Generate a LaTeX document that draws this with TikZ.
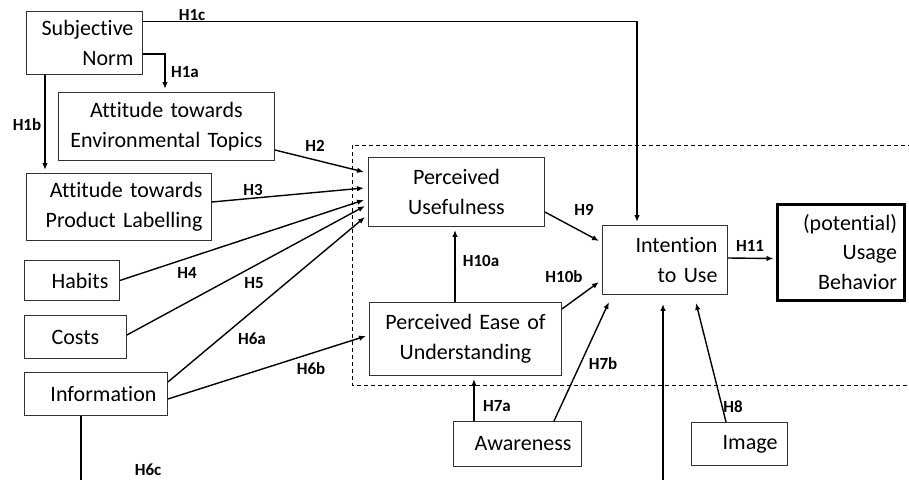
\documentclass[tikz,border=0pt]{standalone}
\usepackage{fontspec}
\setmainfont[Ligatures={NoCommon}]{Carlito}
\usetikzlibrary{arrows.meta,calc}
\begin{document}
\begin{tikzpicture}[x=1pt,y=-1pt,
  box/.style={draw=black!80, line width=0.9pt, inner sep=0pt, anchor=north west,
    font=\fontsize{22}{29.5}\selectfont},
  arr/.style={line width=1.4pt, -{Latex[length=7pt,width=5.5pt]}},
  wire/.style={line width=1.4pt},
  lbl/.style={font=\fontsize{17}{17}\selectfont\bfseries, inner sep=0pt},
  frame/.style={line width=0.8pt, dash pattern=on 4pt off 3pt}]
\useasboundingbox (0,0) rectangle (909,479);
\coordinate (floor) at (0,481);

% constructs
\node[box, minimum width=116, minimum height=63, text width=98, align=right] (sn) at (26,11) {Subjective\\Norm};
\node[box, minimum width=216, minimum height=68, text width=204, align=center] (ate) at (58,92) {Attitude towards\\Environmental Topics};
\node[box, minimum width=185, minimum height=67, text width=167, align=right] (atp) at (26,173) {Attitude towards\\Product Labelling};
\node[box, minimum width=95, minimum height=40, text width=73, align=right] (hab) at (24,260) {Habits};
\node[box, minimum width=102, minimum height=43, text width=90, align=center] (cost) at (24,315) {Costs};
\node[box, minimum width=143, minimum height=43, text width=121, align=right] (info) at (24,372) {Information};
\node[box, minimum width=176, minimum height=69, text width=164, align=center] (pu) at (368,157) {Perceived\\Usefulness};
\node[box, minimum width=192, minimum height=73, text width=180, align=center] (peu) at (369,302) {Perceived Ease of\\Understanding};
\node[box, minimum width=125, minimum height=69, text width=105, align=right] (itu) at (602,225) {Intention\\to Use};
\node[box, draw=black, line width=3pt, minimum width=127, minimum height=96, text width=113, align=right] (ub) at (775.5,202.5) {(potential)\\Usage\\Behavior};
\node[box, minimum width=128, minimum height=45, text width=108, align=right] (aw) at (453,421) {Awareness};
\node[box, minimum width=96, minimum height=43, text width=76, align=right] (img) at (691,422) {Image};

% dashed frame around the core acceptance model
\draw[frame] (912,145) -| (352,385) -- (912,385);

% hypotheses
\draw[arr] ($(sn.north east)+(0,10.5)$) -| ($(itu.north west)+(35,-3)$);
\draw[arr] ($(sn.north east)+(0,43)$) -| ($(ate.north west)+(107,-3)$);
\draw[arr] ($(sn.south west)+(19,0)$) -- ($(atp.north west)+(19,-3)$);
\draw[arr] ($(ate.north east)+(0,58)$) -- ($(pu.north west)+(-4,15)$);
\draw[arr] ($(atp.north east)+(0,29)$) -- ($(pu.north west)+(-4,31)$);
\draw[arr] (hab.east) -- ($(pu.north west)+(-4,43)$);
\draw[arr] ($(cost.north east)+(0,20)$) -- ($(pu.north west)+(-3,49)$);
\draw[arr] ($(info.north east)+(0,10)$) -- ($(pu.north west)+(-3,60)$);
\draw[arr] ($(info.north east)+(0,27)$) -- ($(peu.north west)+(-3,34)$);
\coordinate (h6out) at ($(info.south west)+(57,0)$);
\draw[wire] (h6out) -- (h6out |- floor);
\coordinate (h6in) at ($(itu.south west)+(61,9)$);
\draw[arr] (h6in |- floor) -- (h6in);
\draw[arr] ($(aw.north west)+(21,0)$) -- ($(peu.south west)+(105,3)$);
\draw[arr] ($(aw.north west)+(101,0)$) -- ($(itu.south west)+(7,7)$);
\draw[arr] ($(img.north west)+(35,0)$) -- ($(itu.south west)+(94,8)$);
\draw[arr] ($(pu.north east)+(0,55)$) -- ($(itu.north west)+(-3,16)$);
\draw[arr] ($(peu.north west)+(86,0)$) -- ($(pu.south west)+(87,3)$);
\draw[arr] ($(peu.north east)+(0,7)$) -- ($(itu.north west)+(-3,57)$);
\draw[arr] ($(itu.north east)+(0,33)$) -- ($(ub.north west)+(-2,56)$);

% hypothesis labels
\node[lbl] (l1c) at (192,15) {H1c};
\node[lbl] (l1a) at (185,72) {H1a};
\node[lbl] (l1b) at (27,125) {H1b};
\node[lbl] (l2) at (315,146) {H2};
\node[lbl] (l3) at (253,190) {H3};
\node[lbl] (l4) at (187,273) {H4};
\node[lbl] (l5) at (254,283) {H5};
\node[lbl] (l6a) at (252,339) {H6a};
\node[lbl] (l6b) at (311,369) {H6b};
\node[lbl] (l6c) at (148,470) {H6c};
\node[lbl] (l7a) at (497,406) {H7a};
\node[lbl] (l7b) at (603,364) {H7b};
\node[lbl] (l8) at (733,407) {H8};
\node[lbl] (l9) at (584,210) {H9};
\node[lbl] (l10a) at (481,261) {H10a};
\node[lbl] (l10b) at (564,277) {H10b};
\node[lbl] (l11) at (750,246) {H11};
\end{tikzpicture}
\end{document}
